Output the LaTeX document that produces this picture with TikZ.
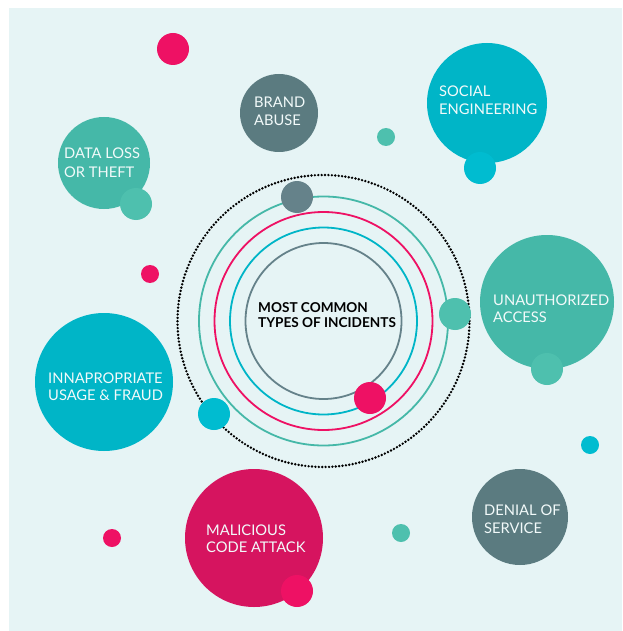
\documentclass[tikz,border=0pt]{standalone}
\usepackage{fontspec}
\setmainfont{Lato}
\definecolor{bgc}{HTML}{E6F4F5}
\definecolor{teal1}{HTML}{45B8A8}
\definecolor{teal2}{HTML}{4EC0AE}
\definecolor{cyan1}{HTML}{00B5C7}
\definecolor{cyan2}{HTML}{00BCD0}
\definecolor{gray1}{HTML}{5B7B80}
\definecolor{gray2}{HTML}{65828A}
\definecolor{mag1}{HTML}{D6145F}
\definecolor{red1}{HTML}{EE1164}
\definecolor{txtw}{HTML}{F2FAFA}
\tikzset{
  blob/.style={circle, inner sep=0pt, draw=none, fill=#1},
  lbl/.style={anchor=base west, inner sep=0pt, text=txtw, font=\fontsize{14.7}{17}\selectfont},
  ctr/.style={anchor=base west, inner sep=0pt, text=black, font=\bfseries\fontsize{13.6}{15}\selectfont},
  ring/.style={draw=#1, line width=1.8pt, fill=none, circle, inner sep=0pt}
}
\begin{document}
\begin{tikzpicture}[x=1pt,y=-1pt]
\useasboundingbox (0,0) rectangle (622,631);
\fill[white] (0,0) rectangle (622,631);
\fill[bgc] (9,8) rectangle (622,631);
% central rings
\node[ring=gray2, minimum size=156pt] (r1) at (323.5,321) {};
\node[ring=cyan1, minimum size=187pt] (r2) at (323.5,321) {};
\node[ring=red1, minimum size=218pt] (r3) at (323.5,321) {};
\node[ring=teal1, minimum size=249pt] (r4) at (323.5,321) {};
\draw[black, line width=2.7pt, line cap=round, dash pattern=on 0pt off 3.4pt] (323.5,321) circle (146pt);
\node[ctr] (c1) at (258,312) {MOST COMMON};
\node[ctr] (c2) at (258,327.5) {TYPES OF INCIDENTS};
% ring dots
\node[blob=gray2, minimum size=32pt] (d1) at (297,197) {};
\node[blob=teal2, minimum size=32pt] (d2) at (455,314) {};
\node[blob=red1, minimum size=32pt] (d3) at (370,398) {};
\node[blob=cyan2, minimum size=32pt] (d4) at (214,414) {};
% big circles
\node[blob=teal1, minimum size=92pt] (dataloss) at (104,163) {};
\node[blob=teal2, minimum size=32pt] (dataloss2) at (136,204) {};
\node[lbl] (dl1) at (64,159) {DATA LOSS};
\node[lbl] (dl2) at (64,177.5) {OR THEFT};

\node[blob=gray1, minimum size=78pt] (brand) at (279,113) {};
\node[lbl] (ba1) at (254,108) {BRAND};
\node[lbl] (ba2) at (254,126) {ABUSE};

\node[blob=cyan1, minimum size=120pt] (social) at (487,103) {};
\node[blob=cyan2, minimum size=32pt] (social2) at (480,168) {};
\node[lbl] (se1) at (439,97) {SOCIAL};
\node[lbl] (se2) at (439,114.5) {ENGINEERING};

\node[blob=teal1, minimum size=134pt] (unauth) at (547,302) {};
\node[blob=teal2, minimum size=32pt] (unauth2) at (547,369) {};
\node[lbl] (ua1) at (493,305) {UNAUTHORIZED};
\node[lbl] (ua2) at (493,322) {ACCESS};

\node[blob=cyan1, minimum size=138pt] (usage) at (104,382) {};
\node[lbl] (iu1) at (48,383) {INNAPROPRIATE};
\node[lbl] (iu2) at (48,400) {USAGE \& FRAUD};

\node[blob=mag1, minimum size=138pt] (malicious) at (254,538) {};
\node[blob=red1, minimum size=32pt] (malicious2) at (297,591) {};
\node[lbl] (mc1) at (206,535) {MALICIOUS};
\node[lbl] (mc2) at (206,552) {CODE ATTACK};

\node[blob=gray1, minimum size=96pt] (denial) at (520,517) {};
\node[lbl] (ds1) at (484,515) {DENIAL OF};
\node[lbl] (ds2) at (484,533) {SERVICE};

% small scattered dots
\node[blob=red1, minimum size=32pt] (s1) at (173,49) {};
\node[blob=teal2, minimum size=18pt] (s2) at (386,137) {};
\node[blob=red1, minimum size=18pt] (s3) at (150,274) {};
\node[blob=cyan2, minimum size=18pt] (s4) at (590,445) {};
\node[blob=red1, minimum size=18pt] (s5) at (112,538) {};
\node[blob=teal2, minimum size=18pt] (s6) at (401,533) {};
\end{tikzpicture}
\end{document}
